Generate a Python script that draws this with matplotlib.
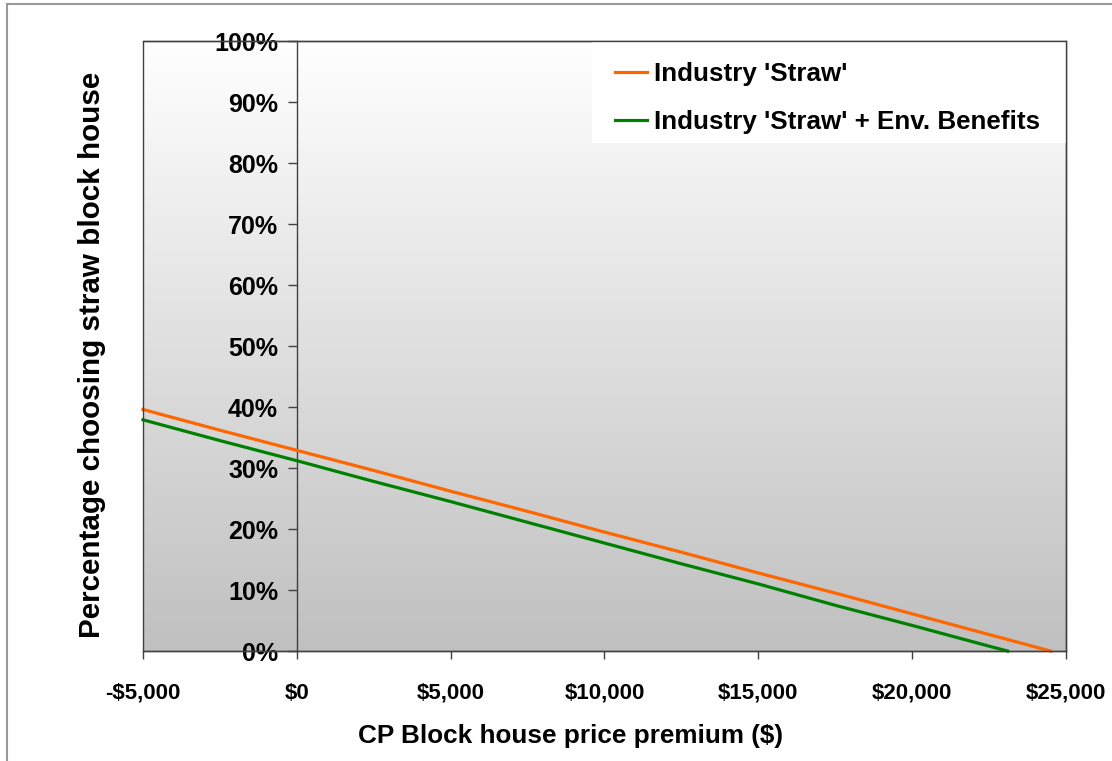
import numpy as np
import matplotlib
matplotlib.use("Agg")
import matplotlib.pyplot as plt
from matplotlib.colors import LinearSegmentedColormap
from matplotlib.patches import Rectangle
from matplotlib.ticker import PercentFormatter, FuncFormatter

plt.rcParams['font.family'] = ['Liberation Sans', 'DejaVu Sans']
plt.rcParams['font.weight'] = 'bold'

# price premium ($) and share choosing straw block house (fraction)
premium_straw = [-5000, -2500, 0, 2500, 5000, 7500, 10000, 12500, 15000,
                 17500, 20000, 22500, 24500]
share_straw = [0.396, 0.362, 0.329, 0.296, 0.262, 0.229, 0.195, 0.162,
               0.128, 0.095, 0.061, 0.027, 0.0]

premium_env = [-5000, -2500, 0, 2500, 5000, 7500, 10000, 12500, 15000,
               17500, 20000, 22500, 23100]
share_env = [0.379, 0.345, 0.312, 0.278, 0.245, 0.211, 0.177, 0.143,
             0.110, 0.075, 0.042, 0.008, 0.0]

x_ticks = [-5000, 0, 5000, 10000, 15000, 20000, 25000]
y_ticks = np.arange(0, 1.01, 0.1)


def money(v, pos=None):
    s = "${:,.0f}".format(abs(v))
    return "-" + s if v < 0 else s


fig = plt.figure(figsize=(11.12, 7.61), dpi=100)
ax = fig.add_axes([0.1286, 0.1445, 0.83, 0.8016])

# grey gradient background
cmap = LinearSegmentedColormap.from_list('bg', ['#ffffff', '#c0c0c0'])
ax.imshow(np.linspace(0, 1, 256).reshape(-1, 1), extent=[-5000, 25000, 0, 1],
          aspect='auto', cmap=cmap, zorder=0)

ax.plot(premium_straw, share_straw, color='#ff6600', lw=2.3,
        label="Industry 'Straw'", zorder=3, clip_on=False)
ax.plot(premium_env, share_env, color='#008000', lw=2.3,
        label="Industry 'Straw' + Env. Benefits", zorder=3, clip_on=False)

ax.set_xlim(-5000, 25000)
ax.set_ylim(0, 1)
ax.set_xticks(x_ticks)
ax.set_yticks(y_ticks)
ax.xaxis.set_major_formatter(FuncFormatter(money))
ax.yaxis.set_major_formatter(PercentFormatter(1.0, decimals=0))

# value axis crosses at $0
ax.spines['left'].set_position(('data', 0))
for s in ['left', 'bottom', 'top', 'right']:
    ax.spines[s].set_color('#404040')
    ax.spines[s].set_linewidth(1.0)
ax.add_patch(Rectangle((0, 0), 1, 1, transform=ax.transAxes, fill=False,
                       edgecolor='#404040', lw=1.0, zorder=6, clip_on=False))

ax.tick_params(axis='y', direction='out', length=6.5, width=1, color='#404040',
               labelsize=18, pad=7)
ax.tick_params(axis='x', direction='out', length=6, width=1, color='#404040',
               labelsize=16, pad=17)

# white legend box reaching the plot frame
ax.add_patch(Rectangle((0.4865, 0.8328), 1 - 0.4865, 1 - 0.8328,
                       transform=ax.transAxes, facecolor='white',
                       edgecolor='none', zorder=4))
leg = ax.legend(loc='upper left', bbox_to_anchor=(0.5114, 0.9655),
                borderaxespad=0, borderpad=0, frameon=False, fontsize=18.7,
                handlelength=1.25, handletextpad=0.25, labelspacing=0.92)
leg.set_zorder(5)

fig.text(0.5126, 0.0330, 'CP Block house price premium ($)', ha='center',
         va='center', fontsize=18.8, fontweight='bold')
fig.text(0.0827, 0.5335, 'Percentage choosing straw block house', ha='center',
         va='center', rotation=90, fontsize=21.3, fontweight='bold')

# outer chart border
fig.patches.append(Rectangle((7 / 1112, -0.1), 1.2, 1.1 - 4 / 761,
                             transform=fig.transFigure, fill=False,
                             edgecolor='#999999', lw=1.5))

fig.savefig('out.png', dpi=100)
